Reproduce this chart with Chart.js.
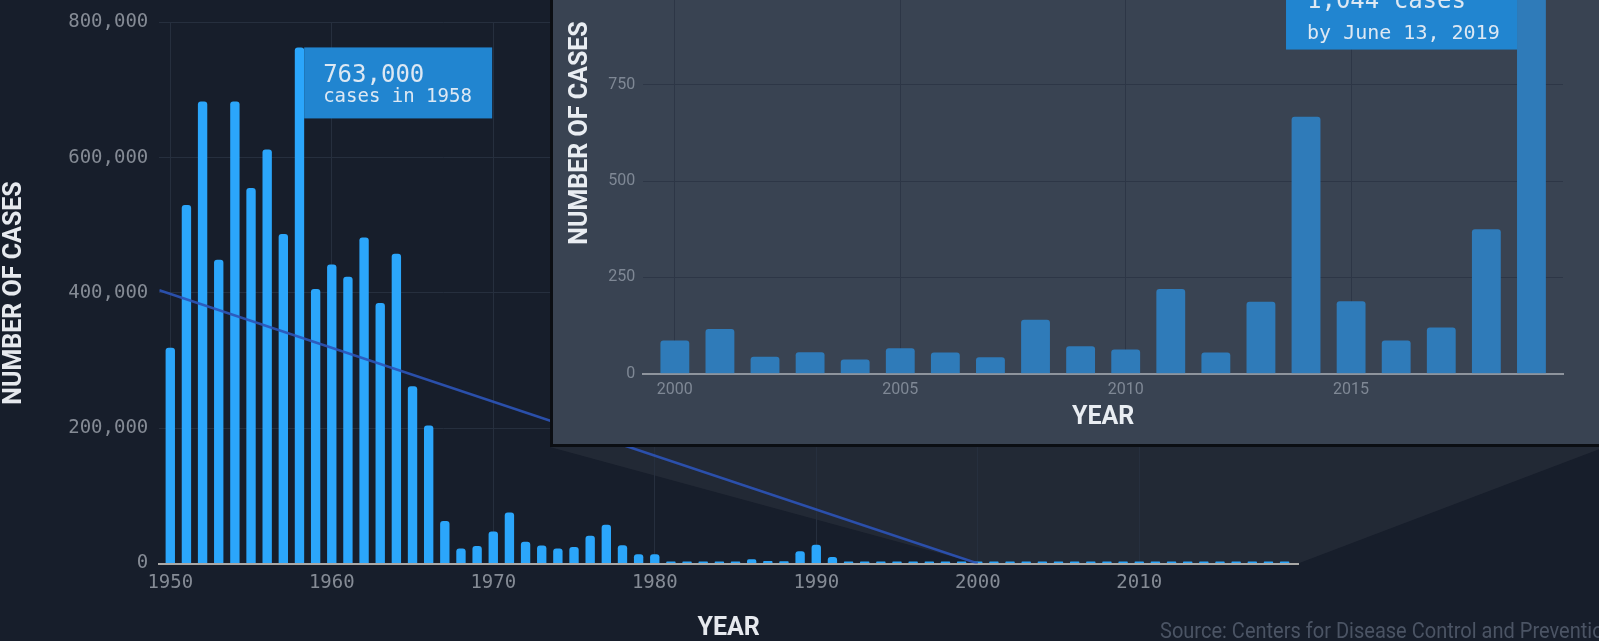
<!DOCTYPE html>
<html>
<head>
<meta charset="utf-8">
<script src="https://cdn.jsdelivr.net/npm/chart.js@4.4.1/dist/chart.umd.min.js"></script>
<style>
  html, body { margin: 0; padding: 0; width: 1599px; height: 641px; overflow: hidden; background: #171e2b; position: relative; }
  #main { position: absolute; left: 0; top: 0; }
  #inset { position: absolute; left: 550px; top: -130px; width: 1055px; height: 577px; box-sizing: border-box;
           border: 3px solid #0b0e13; background: #394352; }
  #inset canvas { display: block; }
  .source { position: absolute; left: 1160px; top: 620px; font: 22px/22px Roboto, sans-serif;
            color: #4b5464; white-space: nowrap; transform: scaleX(0.91); transform-origin: 0 0; }
</style>
</head>
<body>
<canvas id="main" width="1599" height="641"></canvas>
<div id="inset"><canvas id="zoom" width="1049" height="571"></canvas></div>
<div class="source">Source: Centers for Disease Control and Prevention</div>
<script>
// DATA - measles cases per year (US)
var years = [1950, 1951, 1952, 1953, 1954, 1955, 1956, 1957, 1958, 1959,
  1960, 1961, 1962, 1963, 1964, 1965, 1966, 1967, 1968, 1969,
  1970, 1971, 1972, 1973, 1974, 1975, 1976, 1977, 1978, 1979,
  1980, 1981, 1982, 1983, 1984, 1985, 1986, 1987, 1988, 1989,
  1990, 1991, 1992, 1993, 1994, 1995, 1996, 1997, 1998, 1999,
  2000, 2001, 2002, 2003, 2004, 2005, 2006, 2007, 2008, 2009,
  2010, 2011, 2012, 2013, 2014, 2015, 2016, 2017, 2018, 2019];
var cases = [319000, 530000, 683000, 449000, 683000, 555000, 612000, 487000, 763000, 406000,
  442000, 424000, 482000, 385000, 458000, 262000, 204000, 62700, 22200, 25800,
  47400, 75300, 32300, 26700, 22100, 24400, 41100, 57300, 26900, 13600,
  13500, 3120, 1710, 1500, 2590, 2820, 6280, 3660, 3400, 18200,
  27800, 9640, 2240, 312, 963, 309, 508, 138, 100, 100,
  86, 116, 44, 56, 37, 66, 55, 43, 140, 71,
  63, 220, 55, 187, 667, 188, 86, 120, 375, 1044];

var recentYears = [2000, 2001, 2002, 2003, 2004, 2005, 2006, 2007, 2008, 2009,
  2010, 2011, 2012, 2013, 2014, 2015, 2016, 2017, 2018, 2019];
var recentCases = [86, 116, 44, 56, 37, 66, 55, 43, 140, 71,
  63, 220, 55, 187, 667, 188, 86, 120, 375, 1044];

var trendX = [1949.32, 2000];
var trendY = [404000, 0];

var mainXTicks = [1950, 1960, 1970, 1980, 1990, 2000, 2010];
var mainYTicks = [0, 200000, 400000, 600000, 800000];
var zoomXTicks = [2000, 2005, 2010, 2015];
var zoomYTicks = [0, 250, 500, 750, 1000, 1250];

var MONO = "'DejaVu Sans Mono', monospace";
var TITLE = "Roboto, 'Liberation Sans', sans-serif";

// callout box next to a bar
function callout(cfg) {
  return {
    id: 'callout',
    afterDatasetsDraw: function(chart) {
      var bar = chart.getDatasetMeta(0).data[cfg.index];
      var ctx = chart.ctx;
      var top = bar.y;
      var left = cfg.side === 'right' ? bar.x + bar.width / 2 : bar.x - bar.width / 2 - cfg.width;
      ctx.save();
      ctx.fillStyle = '#2185d0';
      ctx.fillRect(left, top, cfg.width, cfg.height);
      ctx.fillStyle = '#dde8f3';
      ctx.textBaseline = 'alphabetic';
      cfg.lines.forEach(function(l) {
        ctx.font = l.font;
        ctx.fillText(l.text, left + cfg.padX, top + l.dy);
      });
      ctx.restore();
    }
  };
}

// lighter "zoom" cone between the inset and 2000-2019 on the axis
var cone = {
  id: 'cone',
  beforeDraw: function(chart) {
    var box = document.getElementById('inset').getBoundingClientRect();
    var x = chart.scales.x, y = chart.scales.y;
    var base = y.getPixelForValue(0);
    var ctx = chart.ctx;
    ctx.save();
    ctx.fillStyle = 'rgba(255,255,255,0.05)';
    ctx.beginPath();
    ctx.moveTo(box.left, box.bottom);
    ctx.lineTo(box.right, box.bottom);
    ctx.lineTo(x.right, base);
    ctx.lineTo(x.getPixelForValue(recentYears[0]), base);
    ctx.closePath();
    ctx.fill();
    ctx.restore();
  }
};

// MAIN CHART
new Chart(document.getElementById('main'), {
  type: 'bar',
  data: {
    labels: years,
    datasets: [{
      type: 'bar',
      data: cases,
      backgroundColor: '#2ba6fb',
      borderRadius: { topLeft: 3, topRight: 3, bottomLeft: 0, bottomRight: 0 },
      barPercentage: 0.58,
      categoryPercentage: 1,
      minBarLength: 2,
      order: 1
    }, {
      type: 'line',
      data: trendX.map(function(v, i) { return { x: v, y: trendY[i] }; }),
      borderColor: 'rgba(44,84,184,0.9)',
      borderWidth: 2.5,
      pointRadius: 0,
      order: 0
    }]
  },
  options: {
    responsive: false,
    animation: false,
    events: [],
    layout: { padding: { top: 15.3, right: 301, bottom: 0, left: 0 } },
    plugins: { legend: { display: false }, tooltip: { enabled: false } },
    scales: {
      x: {
        type: 'linear',
        offset: false,
        bounds: 'data',
        min: 1949.32,
        max: 2019.83,
        afterBuildTicks: function(s) { s.ticks = mainXTicks.map(function(v) { return { value: v }; }); },
        afterFit: function(s) { s.height = 77.5; },
        grid: { color: '#262f3e', drawTicks: false, offset: false },
        border: { color: '#a9a8a6', width: 2 },
        ticks: { color: '#858b95', font: { family: MONO, size: 19 }, padding: 8, maxRotation: 0,
                 callback: function(v) { return String(v); } },
        title: { display: true, text: 'YEAR', color: '#e6e9ee',
                 font: { family: TITLE, size: 25, weight: 'bold', lineHeight: 1 },
                 padding: { top: 0, bottom: -0.5 } }
      },
      y: {
        min: 0,
        max: 800000,
        afterBuildTicks: function(s) { s.ticks = mainYTicks.map(function(v) { return { value: v }; }); },
        afterFit: function(s) { s.width = 159.3; },
        grid: { color: '#262f3e', drawTicks: false },
        border: { display: false },
        ticks: { color: '#858b95', font: { family: MONO, size: 19 }, padding: 11,
                 callback: function(v) { return v.toLocaleString('en-US'); } },
        title: { display: true, text: 'NUMBER OF CASES', color: '#e6e9ee',
                 font: { family: TITLE, size: 25, weight: 'bold', lineHeight: 1 },
                 padding: { top: 2.5, bottom: 0 } }
      }
    }
  },
  plugins: [cone, callout({
    index: years.indexOf(1958), side: 'right', width: 188, height: 71, padX: 19,
    lines: [
      { text: '763,000', font: '24px ' + MONO, dy: 34.4 },
      { text: 'cases in 1958', font: '19px ' + MONO, dy: 54.4 }
    ]
  })]
});

// INSET (2000 - 2019)
new Chart(document.getElementById('zoom'), {
  type: 'bar',
  data: {
    labels: recentYears,
    datasets: [{
      data: recentCases,
      backgroundColor: '#2f7bb9',
      borderRadius: { topLeft: 3, topRight: 3, bottomLeft: 0, bottomRight: 0 },
      barPercentage: 0.64,
      categoryPercentage: 1
    }]
  },
  options: {
    responsive: false,
    animation: false,
    events: [],
    layout: { padding: { top: 19.2, right: 39, bottom: 0, left: 0 } },
    plugins: { legend: { display: false }, tooltip: { enabled: false } },
    scales: {
      x: {
        type: 'linear',
        offset: false,
        bounds: 'data',
        min: 1999.3,
        max: 2019.7,
        afterBuildTicks: function(s) { s.ticks = zoomXTicks.map(function(v) { return { value: v }; }); },
        afterFit: function(s) { s.height = 70.3; },
        grid: { color: '#2d3646', drawTicks: false, offset: false },
        border: { color: '#8e949d', width: 2 },
        ticks: { color: '#7f8895', font: { family: 'Roboto, sans-serif', size: 16 }, padding: 7, maxRotation: 0,
                 callback: function(v) { return String(v); } },
        title: { display: true, text: 'YEAR', color: '#e9edf2',
                 font: { family: TITLE, size: 25, weight: 'bold', lineHeight: 1 },
                 padding: { top: 0, bottom: 13.5 } }
      },
      y: {
        min: 0,
        max: 1250,
        afterBuildTicks: function(s) { s.ticks = zoomYTicks.map(function(v) { return { value: v }; }); },
        afterFit: function(s) { s.width = 90.3; },
        grid: { color: '#2d3646', drawTicks: false },
        border: { display: false },
        ticks: { color: '#7f8895', font: { family: 'Roboto, sans-serif', size: 16 }, padding: 8,
                 callback: function(v) { return v.toLocaleString('en-US'); } },
        title: { display: true, text: 'NUMBER OF CASES', color: '#e9edf2',
                 font: { family: TITLE, size: 25, weight: 'bold', lineHeight: 1 },
                 padding: { top: 15.5, bottom: 0 } }
      }
    }
  },
  plugins: [callout({
    index: recentYears.indexOf(2019), side: 'left', width: 231, height: 78, padX: 21,
    lines: [
      { text: '1,044 cases', font: '24px ' + MONO, dy: 36.3 },
      { text: 'by June 13, 2019', font: '20px ' + MONO, dy: 67.3 }
    ]
  })]
});
</script>
</body>
</html>
